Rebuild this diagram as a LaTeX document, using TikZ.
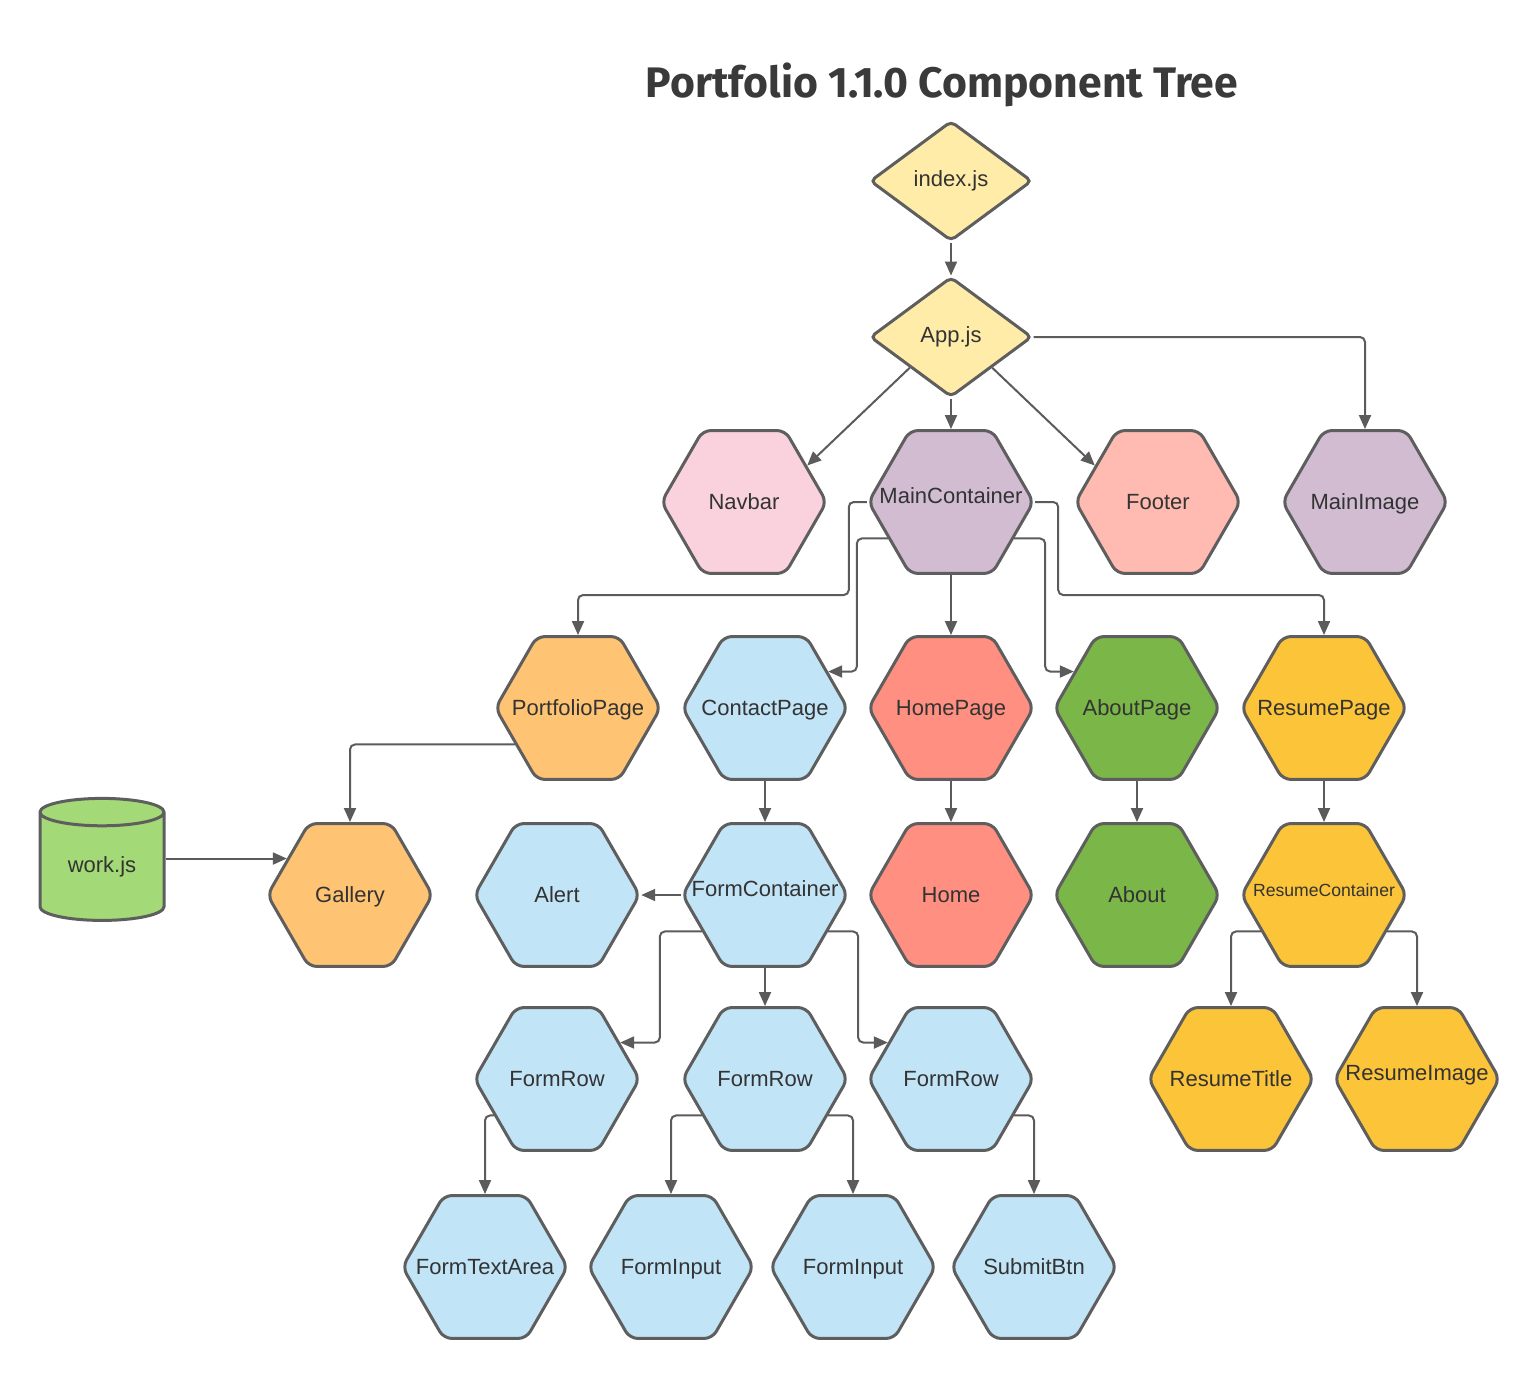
\documentclass[tikz,border=0pt]{standalone}
\usepackage{graphicx}
\usepackage{fontspec}
\setmainfont{Liberation Sans}
\newfontfamily\titlefont{Fira Sans}
\usetikzlibrary{shapes.geometric,arrows.meta}

\definecolor{edge}{HTML}{5E5E5E}
\definecolor{wire}{HTML}{5B5B5B}
\definecolor{ink}{HTML}{333333}
\definecolor{headink}{HTML}{3A3A3A}
\definecolor{diamy}{HTML}{FFECA9}
\definecolor{navpink}{HTML}{F9D2DE}
\definecolor{lilac}{HTML}{D1BCD2}
\definecolor{coral}{HTML}{FFBBB1}
\definecolor{apricot}{HTML}{FFC374}
\definecolor{sky}{HTML}{C1E4F7}
\definecolor{salmon}{HTML}{FF8F80}
\definecolor{leaf}{HTML}{7AB648}
\definecolor{gold}{HTML}{FCC438}
\definecolor{lime}{HTML}{A3D977}

\newcommand{\hexlift}{0pt}
\tikzset{
  hexa/.style={regular polygon, regular polygon sides=6, minimum size=165pt,
    inner sep=0pt, draw=edge, line width=3pt, rounded corners=8pt, fill=#1,
    font=\fontsize{22}{26}\selectfont, text=ink, text height=15pt, text depth=0pt,
    execute at begin node={\raise\hexlift\hbox to 0pt\bgroup\hss},
    execute at end node={\hss\egroup}},
  raised/.code={\renewcommand{\hexlift}{6pt}},
  diam/.style={diamond, minimum width=162pt, minimum height=120pt, inner sep=0pt,
    draw=edge, line width=3pt, rounded corners=5pt, fill=diamy,
    font=\fontsize{22}{26}\selectfont, text=ink},
  db/.style={cylinder, shape border rotate=90, aspect=0.4, minimum width=124pt,
    minimum height=122pt, inner sep=0pt, draw=edge, line width=3pt, fill=lime,
    font=\fontsize{22}{26}\selectfont, text=ink},
  link/.style={draw=wire, line width=2pt, rounded corners=5pt,
    -{Triangle[length=14pt,width=12pt]}}
}

\begin{document}
\begin{tikzpicture}[x=1pt,y=-1pt]
\useasboundingbox (0,0) rectangle (1540,1379);

\node[anchor=base, text=headink, font=\titlefont\bfseries\fontsize{38}{44}\selectfont]
  (title) at (942,97) {\resizebox{592pt}{!}{Portfolio 1.1.0 Component Tree}};

% entry points
\node[diam] (idx) at (951,181) {index.js};
\node[diam] (app) at (951,337) {App.js};

% first level
\node[hexa=navpink] (nav) at (744,502) {Navbar};
\node[hexa=lilac,raised] (mc) at (951,502) {MainContainer};
\node[hexa=coral] (foot) at (1158,502) {Footer};
\node[hexa=lilac] (mimg) at (1365,502) {MainImage};

% pages
\node[hexa=apricot] (pp) at (578,708) {PortfolioPage};
\node[hexa=sky] (cp) at (765,708) {ContactPage};
\node[hexa=salmon] (hp) at (951,708) {HomePage};
\node[hexa=leaf] (ap) at (1137,708) {AboutPage};
\node[hexa=gold] (rp) at (1324,708) {ResumePage};

% page contents
\node[db] (work) at (102,867) {work.js};
\node[hexa=apricot] (gal) at (350,895) {Gallery};
\node[hexa=sky] (alert) at (557,895) {Alert};
\node[hexa=sky,raised] (fc) at (765,895) {FormContainer};
\node[hexa=salmon] (home) at (951,895) {Home};
\node[hexa=leaf] (about) at (1137,895) {About};
\node[hexa=gold,raised,font=\fontsize{17.6}{20}\selectfont] (rc) at (1324,895) {ResumeContainer};

\node[hexa=sky] (fr1) at (557,1079) {FormRow};
\node[hexa=sky] (fr2) at (765,1079) {FormRow};
\node[hexa=sky] (fr3) at (951,1079) {FormRow};
\node[hexa=gold] (rt) at (1231,1079) {ResumeTitle};
\node[hexa=gold,raised] (ri) at (1417,1079) {ResumeImage};

\node[hexa=sky] (fta) at (485,1267) {FormTextArea};
\node[hexa=sky] (fi1) at (671,1267) {FormInput};
\node[hexa=sky] (fi2) at (853,1267) {FormInput};
\node[hexa=sky] (sub) at (1034,1267) {SubmitBtn};

% connectors
\draw[link] (idx.south) -- (app.north);
\draw[link] (app.south west) -- (nav.30);
\draw[link] (app.south) -- (mc.north);
\draw[link] (app.south east) -- (foot.150);
\draw[link] (app.east) -| (mimg.north);

\draw[link] (mc.west) -- ++(-18,0) |- ([yshift=40pt]pp.north) -- (pp.north);
\draw[link] (mc.210) -- ++(-31,0) |- (cp.30);
\draw[link] (mc.south) -- (hp.north);
\draw[link] (mc.330) -- ++(31,0) |- (ap.150);
\draw[link] (mc.east) -- ++(23,0) |- ([yshift=40pt]rp.north) -- (rp.north);

\draw[link] (pp.210) -| (gal.north);
\draw[link] (gal.150 -| work.east) -- (gal.150);
\draw[link] (cp.south) -- (fc.north);
\draw[link] (hp.south) -- (home.north);
\draw[link] (ap.south) -- (about.north);
\draw[link] (rp.south) -- (rc.north);

\draw[link] (fc.west) -- (alert.east);
\draw[link] (fc.210) -- ++(-42,0) |- (fr1.30);
\draw[link] (fc.south) -- (fr2.north);
\draw[link] (fc.330) -- ++(30,0) |- (fr3.150);
\draw[link] (rc.210) -| (rt.north);
\draw[link] (rc.330) -| (ri.north);

\draw[link] (fr1.210) -| (fta.north);
\draw[link] (fr2.210) -| (fi1.north);
\draw[link] (fr2.330) -| (fi2.north);
\draw[link] (fr3.330) -| (sub.north);
\end{tikzpicture}
\end{document}
